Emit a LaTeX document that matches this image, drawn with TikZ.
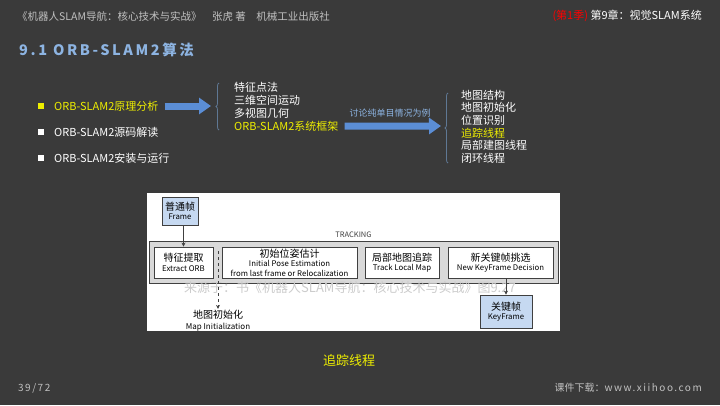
\documentclass[tikz,border=0pt]{standalone}
\usepackage{fontspec}
\setmainfont{Noto Sans CJK SC}
\newfontfamily\widefont[LetterSpace=18]{Noto Sans CJK SC}
\newfontfamily\webfont[LetterSpace=15]{Noto Sans CJK SC}
\usetikzlibrary{positioning,arrows.meta,decorations.pathreplacing}
\definecolor{slidebg}{HTML}{3A3A3A}
\definecolor{headgray}{HTML}{C0C0C0}
\definecolor{hilite}{HTML}{EEEE00}
\definecolor{titleblue}{HTML}{8DB4E2}
\definecolor{arrowblue}{HTML}{5B8ED6}
\definecolor{bracegray}{HTML}{5F7894}
\definecolor{frameblue}{HTML}{C6D9F1}
\definecolor{trackgray}{HTML}{D9D9D9}
\definecolor{boxline}{HTML}{404040}
\tikzset{
  txt/.style={inner sep=1pt, font=\fontsize{11}{13}\selectfont},
  bulletsq/.style={draw=none, minimum size=5.5pt, inner sep=0pt},
  bigarrow/.style={arrowblue, line width=7pt, -{Triangle[length=12pt,width=16pt]}},
  bracket/.style={bracegray, line width=0.8pt, decorate, decoration={brace, amplitude=3pt}},
  stage/.style={draw=boxline, line width=0.8pt, fill=white, minimum height=31pt,
    align=center, inner sep=0pt, font=\fontsize{7.8}{9.6}\selectfont},
  bluebox/.style={stage, fill=frameblue},
  arr/.style={boxline, line width=0.7pt, -{Stealth[length=4pt,width=4pt]}}
}
\newcommand{\zh}[1]{{\fontsize{10}{11}\selectfont #1}}
\begin{document}
\begin{tikzpicture}[x=1pt, y=-1pt]
	\fill [slidebg] (0,0) rectangle (720,405);
	% header
	\node [txt, anchor=west, text=headgray, font=\fontsize{10.5}{12}\selectfont] (book) at (16,16)
		{《机器人SLAM导航：核心技术与实战》\quad 张虎 著\quad 机械工业出版社};
	\node [txt, anchor=east, text=white, font=\fontsize{11}{13}\selectfont] (chapter) at (703,16)
		{\textcolor{red}{(第1季)} 第9章：视觉SLAM系统};
	\node [txt, anchor=west, text=titleblue, font=\fontsize{14.5}{16}\selectfont\widefont\bfseries] (title) at (18,50)
		{9.1 ORB-SLAM2算法};
	% bullet list
	\foreach \y/\t/\c/\n in {106/原理分析/hilite/1, 132/源码解读/white/2, 158/安装与运行/white/3}{
		\node [bulletsq, fill=\c] (sq\n) at (41,\y) {};
		\node [txt, anchor=west, text=\c] (p\n) at (53,\y) {ORB-SLAM2\t};
	}
	\coordinate (tip1) at (211,106);
	\draw [bigarrow] ([xshift=5pt]p1.east) -- (tip1);
	\draw [bracket] (219,130) -- (219,83);
	\foreach \t [count=\i] in {特征点法,三维空间运动,多视图几何}{
		\node [txt, anchor=west, text=white] (m\i) at (233,75+12.8*\i) {\t};
	}
	\node [txt, anchor=west, text=hilite] (m4) at (233,126.2) {ORB-SLAM2系统框架};
	\coordinate (tip2) at (441,126);
	\draw [bigarrow] ([xshift=5pt]m4.east) -- (tip2);
	\node [txt, text=titleblue, font=\fontsize{9}{10}\selectfont] (mono) at (390,113) {讨论纯单目情况为例};
	\draw [bracket] (448,163) -- (448,93);
	\foreach \t [count=\i] in {地图结构,地图初始化,位置识别}{
		\node [txt, anchor=west, text=white] (s\i) at (460,82.5+12.6*\i) {\t};
	}
	\node [txt, anchor=west, text=hilite] (s4) at (460,133) {追踪线程};
	\node [txt, anchor=west, text=white] (s5) at (460,145.5) {局部建图线程};
	\node [txt, anchor=west, text=white] (s6) at (460,158) {闭环线程};
	% tracking figure
	\fill [white] (147,193) rectangle (560,331);
	\node [bluebox, minimum width=36pt, minimum height=28pt] (frame) at (180,211) {\zh{普通帧}\\Frame};
	\node [draw=boxline, line width=0.8pt, fill=trackgray, minimum width=409pt, minimum height=42pt] (track) at (353.5,262) {};
	\node [txt, above=1.5pt of track, text=boxline, font=\fontsize{7.5}{9}\selectfont] (tracklbl) {TRACKING};
	\node [stage, minimum width=59pt] (orb) at (183.5,262.5) {\zh{特征提取}\\Extract ORB};
	\node [stage, minimum width=135pt] (init) at (289.5,262.5)
		{\zh{初始位姿估计}\\Initial Pose Estimation\\from last frame or Relocalization};
	\node [stage, minimum width=74pt] (local) at (402,262.5) {\zh{局部地图追踪}\\Track Local Map};
	\node [stage, minimum width=105pt] (newkf) at (500.5,262.5) {\zh{新关键帧挑选}\\New KeyFrame Decision};
	\node [bluebox, minimum width=52pt, minimum height=33pt] (kf) at (506,311.5) {\zh{关键帧}\\KeyFrame};
	\node [txt, text=black, align=center, font=\fontsize{8}{10.5}\selectfont] (mapinit) at (218,320.5) {\zh{地图初始化}\\Map Initialization};
	\node [txt, text=gray!40, font=\fontsize{13}{15}\selectfont] (wm) at (350,288)
		{来源于：书《机器人SLAM导航：核心技术与实战》图9.27};
	\coordinate (gap) at (218,251);
	\draw [arr] (frame.south -| orb.north) -- (orb.north);
	\draw [arr] (newkf.south -| kf.north) -- (kf.north);
	\draw [arr, dashed] (gap) -- (mapinit.north);
	% footer
	\node [txt, text=hilite, font=\fontsize{13}{15}\selectfont] (caption) at (349,361) {追踪线程};
	\node [txt, anchor=west, text=headgray, font=\fontsize{10}{12}\selectfont\webfont] (page) at (17,388) {39/72};
	\node [txt, anchor=east, text=headgray, font=\fontsize{10}{12}\selectfont] (web) at (703,388)
		{课件下载：{\webfont www.xiihoo.com}};
\end{tikzpicture}
\end{document}
